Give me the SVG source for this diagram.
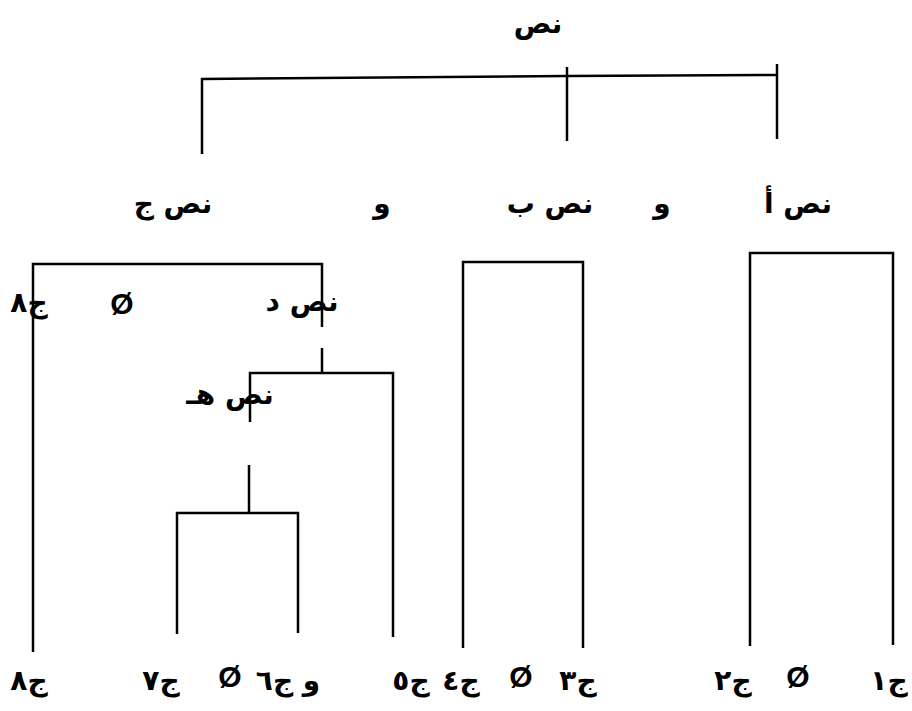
<svg xmlns="http://www.w3.org/2000/svg" width="912" height="711" viewBox="0 0 912 711">
<style>
.ln{fill:none;stroke:#000;stroke-width:2.5;stroke-linecap:butt;stroke-linejoin:miter}
.ar{font-family:"DejaVu Sans",sans-serif;font-size:28px;font-weight:bold;fill:#000;text-anchor:middle;direction:rtl}
.nul{font-family:"Liberation Sans",sans-serif;font-size:30px;font-weight:bold;fill:#000;text-anchor:middle}
</style>
<rect width="912" height="711" fill="#fff"/>
<g id="connectors">
<path class="ln" d="M202,154 V79 L567,76 L777,75"/>
<path class="ln" d="M567,67 V141"/>
<path class="ln" d="M777,64 V139"/>
<path class="ln" d="M750,646 V253 H893 V645"/>
<path class="ln" d="M463,648 V262 H583 V648"/>
<path class="ln" d="M33,652 V264 H322 V327"/>
<path class="ln" d="M322,348 V373"/>
<path class="ln" d="M250,422 V373 H393 V637"/>
<path class="ln" d="M249,465 V513"/>
<path class="ln" d="M177,634 V513 H298 V633"/>
</g>
<g id="n-root"><text class="ar" x="538" y="33">نص</text></g>
<g id="n-a"><text class="ar" x="798" y="213">نص أ</text></g>
<g id="n-and1"><text class="ar" x="662" y="213">و</text></g>
<g id="n-b"><text class="ar" x="550" y="213">نص ب</text></g>
<g id="n-and2"><text class="ar" x="382" y="213">و</text></g>
<g id="n-c"><text class="ar" x="173" y="213">نص ج</text></g>
<g id="n-c8top"><text class="ar" x="29" y="312">ج٨</text></g>
<g id="n-null4"><text class="nul" x="122" y="314">Ø</text></g>
<g id="n-d"><text class="ar" x="302" y="311">نص د</text></g>
<g id="n-e"><text class="ar" x="230" y="404">نص هـ</text></g>
<g id="n-c8"><text class="ar" x="29" y="690">ج٨</text></g>
<g id="n-c7"><text class="ar" x="161" y="690">ج٧</text></g>
<g id="n-null3"><text class="nul" x="230" y="687">Ø</text></g>
<g id="n-c6"><text class="ar" x="288" y="690">و ج٦</text></g>
<g id="n-c5"><text class="ar" x="411" y="690">ج٥</text></g>
<g id="n-c4"><text class="ar" x="461" y="690">ج٤</text></g>
<g id="n-null2"><text class="nul" x="521" y="687">Ø</text></g>
<g id="n-c3"><text class="ar" x="578" y="690">ج٣</text></g>
<g id="n-c2"><text class="ar" x="733" y="690">ج٢</text></g>
<g id="n-null1"><text class="nul" x="798" y="687">Ø</text></g>
<g id="n-c1"><text class="ar" x="889" y="690">ج١</text></g>
</svg>
